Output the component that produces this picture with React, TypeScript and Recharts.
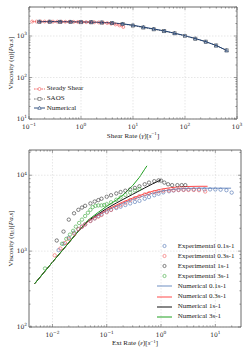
import React from 'react';
import { ComposedChart, Line, Scatter, XAxis, YAxis, ReferenceArea } from 'recharts';

// ---------- shear panel data ----------
const steadyRate = [0.115, 0.139, 0.167, 0.2, 0.24, 0.29, 0.35, 0.42, 0.5, 0.6, 0.72, 0.87, 1.05, 1.26, 1.5, 1.8, 2.2, 2.65, 3.2, 3.8, 4.6, 5.5, 6.5];
const steadyEta = [2230, 2230, 2230, 2230, 2220, 2220, 2220, 2210, 2200, 2200, 2190, 2180, 2170, 2160, 2150, 2140, 2120, 2100, 2050, 1980, 1900, 1800, 1650];

const saosRate = [0.158, 0.251, 0.398, 0.631, 1, 1.58, 2.51, 3.98, 6.31, 10, 15.8, 25.1, 39.8, 63.1, 100, 158, 251, 398, 631];
const saosEta = [2200, 2200, 2190, 2170, 2150, 2140, 2110, 2060, 1950, 1780, 1600, 1450, 1310, 1160, 1000, 860, 730, 590, 450];
const numShearEta = [2230, 2230, 2220, 2210, 2190, 2170, 2130, 2070, 1970, 1820, 1640, 1480, 1330, 1170, 1020, 870, 730, 590, 450];

// ---------- extensional panel data ----------
const exp01Rate = [0.013, 0.016, 0.02, 0.025, 0.03, 0.035, 0.04, 0.05, 0.06, 0.07, 0.08, 0.1, 0.12, 0.15, 0.18, 0.22, 0.27, 0.33, 0.4, 0.5, 0.6, 0.75, 0.9, 1.1, 1.4, 1.7, 2.1, 2.6, 3.2, 4, 5, 6.3, 8, 10, 12.5, 16, 20];
const exp01Eta = [1030, 1250, 1500, 1750, 1950, 2100, 2250, 2500, 2700, 2900, 3050, 3300, 3500, 3700, 3850, 4050, 4250, 4450, 4600, 4900, 5150, 5450, 5700, 5950, 6150, 6300, 6400, 6450, 6500, 6500, 6500, 6500, 6500, 6500, 6450, 6350, 5900];

const exp03Rate = [0.011, 0.014, 0.017, 0.02, 0.025, 0.03, 0.035, 0.04, 0.05, 0.06, 0.07, 0.08, 0.1, 0.12, 0.15, 0.18, 0.22, 0.27, 0.33, 0.4, 0.5, 0.6, 0.75, 0.9, 1.1, 1.4, 1.7, 2.1, 2.6, 3.2, 4, 5, 6.5];
const exp03Eta = [880, 1080, 1280, 1450, 1700, 1950, 2100, 2250, 2500, 2700, 2850, 3000, 3250, 3500, 3800, 4050, 4350, 4700, 5000, 5300, 5600, 5800, 6000, 6150, 6250, 6300, 6350, 6400, 6400, 6400, 6400, 6350, 6100];

const exp1Rate = [0.012, 0.016, 0.02, 0.025, 0.03, 0.035, 0.04, 0.05, 0.06, 0.07, 0.08, 0.1, 0.12, 0.15, 0.18, 0.22, 0.27, 0.33, 0.4, 0.5, 0.6, 0.75, 0.9, 1.0, 1.15, 1.35, 1.6, 2, 2.4, 2.8];
const exp1Eta = [1380, 1810, 2600, 3150, 3500, 3750, 3950, 4250, 4500, 4700, 4900, 5200, 5450, 5750, 6000, 6250, 6500, 6800, 7150, 7600, 8000, 8350, 8550, 8500, 8000, 7600, 7400, 7400, 7400, 7400];

const exp3Rate = [0.0073, 0.015, 0.018, 0.021, 0.024, 0.027, 0.031, 0.035, 0.04, 0.045, 0.05, 0.055, 0.062, 0.07, 0.08, 0.09, 0.1, 0.12, 0.15, 0.18, 0.22, 0.27, 0.33, 0.4];
const exp3Eta = [590, 1250, 1450, 1650, 1850, 2100, 2350, 2600, 2900, 3200, 3500, 3800, 3950, 4000, 4000, 4050, 4150, 4400, 4750, 5100, 5500, 5900, 6300, 6600];

const num01Rate = [0.0047, 0.007, 0.01, 0.015, 0.02, 0.03, 0.045, 0.07, 0.1, 0.15, 0.2, 0.3, 0.5, 0.7, 1, 1.5, 2, 3, 5, 10, 19.5];
const num01Eta = [372, 525, 715, 1010, 1290, 1830, 2450, 2950, 3400, 3900, 4300, 4800, 5400, 5800, 6150, 6450, 6600, 6700, 6750, 6750, 6750];

const num03Rate = [0.0047, 0.007, 0.01, 0.015, 0.02, 0.03, 0.045, 0.07, 0.1, 0.15, 0.2, 0.3, 0.5, 0.7, 1, 1.5, 2, 3, 5, 7.2];
const num03Eta = [372, 525, 715, 1010, 1290, 1830, 2450, 3000, 3500, 4050, 4450, 5000, 5700, 6150, 6550, 6850, 7000, 7100, 7150, 7150];

const num1Rate = [0.0047, 0.007, 0.01, 0.015, 0.02, 0.03, 0.045, 0.07, 0.1, 0.15, 0.2, 0.3, 0.5, 0.7, 1.0];
const num1Eta = [372, 525, 715, 1010, 1290, 1830, 2500, 3100, 3650, 4300, 4800, 5600, 6800, 7700, 8700];

const num3Rate = [0.0047, 0.007, 0.01, 0.015, 0.02, 0.03, 0.045, 0.07, 0.1, 0.15, 0.2, 0.3, 0.4, 0.5, 0.55];
const num3Eta = [372, 525, 715, 1010, 1290, 1830, 2550, 3250, 3900, 4700, 5500, 7300, 9400, 12000, 13300];

// ---------- axes ----------
const shearXDomain = [0.1, 1000];
const shearYDomain = [10, 5000];
const extXDomain = [0.0037, 29.7];
const extYDomain = [100, 21500];

const TEXT_FONT = '"Liberation Serif", "Times New Roman", serif';
const TICK_FONT = '"DejaVu Serif", serif';
const AXIS_COLOR = '#444';

const pts = (xs: number[], ys: number[]) => xs.map((x, i) => ({ x, y: ys[i] }));

// decade + minor ticks inside a range
const logTicks = (lo: number, hi: number) => {
  const out: number[] = [];
  for (let d = Math.floor(Math.log10(lo)); d <= Math.ceil(Math.log10(hi)); d++) {
    for (let k = 1; k < 10; k++) {
      const v = Number((k * Math.pow(10, d)).toPrecision(6));
      if (v >= lo * 0.999 && v <= hi * 1.001) out.push(v);
    }
  }
  return out;
};

const isMajor = (v: number) => Math.abs(Math.log10(v) - Math.round(Math.log10(v))) < 1e-6;
const expOf = (v: number) => {
  const e = Math.round(Math.log10(v));
  return e < 0 ? `\u2212${-e}` : `${e}`;
};

type Frame = { left: number; right: number; top: number; bottom: number };
const TOP_FRAME: Frame = { left: 29, right: 237, top: 7, bottom: 119 };
const BOT_FRAME: Frame = { left: 29, right: 241, top: 8, bottom: 185 };

const XTick = ({ x, y, payload, frame }: any) => {
  const v = payload.value;
  const major = isMajor(v);
  const len = major ? 3 : 1.6;
  return (
    <g>
      {major && (
        <line x1={x} x2={x} y1={frame.top} y2={frame.bottom} stroke="#cfcfcf" strokeWidth={0.5} strokeDasharray="1.5 1.5" />
      )}
      <line x1={x} x2={x} y1={y} y2={y - len} stroke={AXIS_COLOR} strokeWidth={0.5} />
      <line x1={x} x2={x} y1={frame.top} y2={frame.top + len} stroke={AXIS_COLOR} strokeWidth={0.5} />
      {major && (
        <text x={x} y={y + 9.5} textAnchor="middle" fontSize={6} fontFamily={TICK_FONT} fill="#222">
          10<tspan dy={-2.8} fontSize={4.3}>{expOf(v)}</tspan>
        </text>
      )}
    </g>
  );
};

const YTick = ({ x, y, payload, frame }: any) => {
  const v = payload.value;
  const major = isMajor(v);
  const len = major ? 3 : 1.6;
  return (
    <g>
      {major && (
        <line x1={frame.left} x2={frame.right} y1={y} y2={y} stroke="#cfcfcf" strokeWidth={0.5} strokeDasharray="1.5 1.5" />
      )}
      <line x1={x} x2={x + len} y1={y} y2={y} stroke={AXIS_COLOR} strokeWidth={0.5} />
      <line x1={frame.right - len} x2={frame.right} y1={y} y2={y} stroke={AXIS_COLOR} strokeWidth={0.5} />
      {major && (
        <text x={x - 2} y={y + 2.2} textAnchor="end" fontSize={6} fontFamily={TICK_FONT} fill="#222">
          10<tspan dy={-2.8} fontSize={4.3}>{expOf(v)}</tspan>
        </text>
      )}
    </g>
  );
};

// ---------- markers ----------
const hollowCircle = (color: string, r = 1.7) => (p: any) =>
  <circle key={`c-${p.index}-${p.cx}`} cx={p.cx} cy={p.cy} r={r} fill="none" stroke={color} strokeWidth={0.6} />;
const hollowSquare = (color: string) => (p: any) =>
  <rect key={`s-${p.index}`} x={p.cx - 1.6} y={p.cy - 1.6} width={3.2} height={3.2} fill="none" stroke={color} strokeWidth={0.6} />;
const hollowTriangle = (color: string) => (p: any) =>
  <polygon key={`t-${p.index}`} points={`${p.cx},${p.cy - 1.8} ${p.cx - 1.7},${p.cy + 1.3} ${p.cx + 1.7},${p.cy + 1.3}`} fill="none" stroke={color} strokeWidth={0.6} />;

const RED = '#ef5b5b';
const GRAY = '#666';
const NAVY = '#1d3f73';

const topLegend = [
  { name: 'Steady Shear', color: RED, dash: '1.6 0.9', marker: 'circle' },
  { name: 'SAOS', color: GRAY, dash: '1.6 0.9', marker: 'square' },
  { name: 'Numerical', color: NAVY, dash: undefined, marker: 'triangle' },
];

const EXP_BLUE = '#4a6fb0';
const EXP_RED = '#f25a5a';
const EXP_BLACK = '#333';
const EXP_GREEN = '#3aa83a';
const NUM_BLUE = '#6f8fc2';
const NUM_RED = '#ff4b4b';
const NUM_BLACK = '#111';
const NUM_GREEN = '#21a021';

const botLegend = [
  { name: 'Experimental 0.1s-1', color: EXP_BLUE, kind: 'dot' },
  { name: 'Experimental 0.3s-1', color: EXP_RED, kind: 'dot' },
  { name: 'Experimental 1s-1', color: EXP_BLACK, kind: 'dot' },
  { name: 'Experimental 3s-1', color: EXP_GREEN, kind: 'dot' },
  { name: 'Numerical 0.1s-1', color: NUM_BLUE, kind: 'line' },
  { name: 'Numerical 0.3s-1', color: NUM_RED, kind: 'line' },
  { name: 'Numerical 1s-1', color: NUM_BLACK, kind: 'line' },
  { name: 'Numerical 3s-1', color: NUM_GREEN, kind: 'line' },
];

const TopLegendBox = () => (
  <div style={{ position: 'absolute', left: 34, top: 84, fontFamily: TEXT_FONT, fontSize: 7, color: '#222', lineHeight: 1 }}>
    {topLegend.map((it) => (
      <div key={it.name} style={{ display: 'flex', alignItems: 'center', height: 9.8 }}>
        <svg width={11} height={8} style={{ marginRight: 1.7 }}>
          <line x1={0} x2={11} y1={4} y2={4} stroke={it.color} strokeWidth={0.9} strokeDasharray={it.dash} />
          {it.marker === 'circle' && <circle cx={5.5} cy={4} r={1.5} fill="white" stroke={it.color} strokeWidth={0.6} />}
          {it.marker === 'square' && <rect x={4} y={2.5} width={3} height={3} fill="white" stroke={it.color} strokeWidth={0.6} />}
          {it.marker === 'triangle' && <polygon points="5.5,2.2 3.8,5.3 7.2,5.3" fill="white" stroke={it.color} strokeWidth={0.6} />}
        </svg>
        <span>{it.name}</span>
      </div>
    ))}
  </div>
);

const BotLegendBox = () => (
  <div style={{ position: 'absolute', left: 157, top: 99, fontFamily: TEXT_FONT, fontSize: 7, color: '#222', lineHeight: 1 }}>
    {botLegend.map((it) => (
      <div key={it.name} style={{ display: 'flex', alignItems: 'center', height: 10.1 }}>
        <svg width={15} height={8} style={{ marginRight: 5.7 }}>
          {it.kind === 'dot' ? (
            <circle cx={7.5} cy={4} r={1.6} fill="none" stroke={it.color} strokeWidth={0.6} />
          ) : (
            <line x1={0} x2={15} y1={4} y2={4} stroke={it.color} strokeWidth={1} />
          )}
        </svg>
        <span>{it.name}</span>
      </div>
    ))}
  </div>
);

const XLabel = (text: React.ReactNode, dy: number) => (props: any) => {
  const vb = props.viewBox;
  return (
    <text x={vb.x + vb.width / 2} y={vb.y + dy} textAnchor="middle" fontSize={7} fontFamily={TEXT_FONT} fill="#222">
      {text}
    </text>
  );
};

const YLabel = (text: React.ReactNode) => (props: any) => {
  const vb = props.viewBox;
  const cx = 12.5;
  const cy = vb.y + vb.height / 2;
  return (
    <text x={cx} y={cy} textAnchor="middle" fontSize={7} fontFamily={TEXT_FONT} fill="#222" transform={`rotate(-90 ${cx} ${cy})`}>
      {text}
    </text>
  );
};

const it = { fontStyle: 'italic' as const };

export default function App() {
  const shearXTicks = logTicks(shearXDomain[0], shearXDomain[1]);
  const shearYTicks = logTicks(shearYDomain[0], shearYDomain[1]);
  const extXTicks = logTicks(extXDomain[0], extXDomain[1]);
  const extYTicks = logTicks(extYDomain[0], extYDomain[1]);

  return (
    <div style={{ position: 'absolute', left: 0, top: 0, width: 249, height: 353, background: '#fff', overflow: 'hidden' }}>
      <div style={{ position: 'absolute', left: 0, top: 0 }}>
        <ComposedChart width={249} height={142} margin={{ top: 7, right: 12, bottom: 0, left: 0 }}>
          <XAxis
            dataKey="x"
            type="number"
            scale="log"
            domain={shearXDomain}
            allowDataOverflow
            ticks={shearXTicks}
            interval={0}
            tickSize={0}
            tickMargin={0}
            axisLine={false}
            tickLine={false}
            height={23}
            tick={(p: any) => <XTick {...p} frame={TOP_FRAME} />}
            label={{
              content: XLabel(
                <>
                  Shear Rate (<tspan style={it}>γ̇</tspan>)[<tspan style={it}>s</tspan>
                  <tspan dy={-2.5} fontSize={5}>−1</tspan>
                  <tspan dy={2.5}>]</tspan>
                </>,
                18.5
              ),
            }}
          />
          <YAxis
            dataKey="y"
            type="number"
            scale="log"
            domain={shearYDomain}
            allowDataOverflow
            ticks={shearYTicks}
            interval={0}
            tickSize={0}
            tickMargin={0}
            axisLine={false}
            tickLine={false}
            width={29}
            tick={(p: any) => <YTick {...p} frame={TOP_FRAME} />}
            label={{
              content: YLabel(
                <>
                  Viscosity (<tspan style={it}>η</tspan>)[<tspan style={it}>Pa.s</tspan>]
                </>
              ),
            }}
          />
          <ReferenceArea x1={shearXDomain[0]} x2={shearXDomain[1]} y1={shearYDomain[0]} y2={shearYDomain[1]} fill="none" stroke={AXIS_COLOR} strokeWidth={0.8} fillOpacity={0} />
          <Line data={pts(steadyRate, steadyEta)} dataKey="y" stroke={RED} strokeWidth={0.9} strokeDasharray="1.6 0.9" dot={hollowCircle(RED, 1.5)} isAnimationActive={false} />
          <Line data={pts(saosRate, saosEta)} dataKey="y" stroke={GRAY} strokeWidth={0.9} strokeDasharray="1.6 0.9" dot={hollowSquare(GRAY)} isAnimationActive={false} />
          <Line data={pts(saosRate, numShearEta)} dataKey="y" stroke={NAVY} strokeWidth={1} dot={hollowTriangle(NAVY)} isAnimationActive={false} />
        </ComposedChart>
        <TopLegendBox />
      </div>

      <div style={{ position: 'absolute', left: 0, top: 142 }}>
        <ComposedChart width={249} height={211} margin={{ top: 8, right: 8, bottom: 0, left: 0 }}>
          <XAxis
            dataKey="x"
            type="number"
            scale="log"
            domain={extXDomain}
            allowDataOverflow
            ticks={extXTicks}
            interval={0}
            tickSize={0}
            tickMargin={0}
            axisLine={false}
            tickLine={false}
            height={26}
            tick={(p: any) => <XTick {...p} frame={BOT_FRAME} />}
            label={{
              content: XLabel(
                <>
                  Ext Rate (<tspan style={it}>ε̇</tspan>)[<tspan style={it}>s</tspan>
                  <tspan dy={-2.5} fontSize={5}>−1</tspan>
                  <tspan dy={2.5}>]</tspan>
                </>,
                18
              ),
            }}
          />
          <YAxis
            dataKey="y"
            type="number"
            scale="log"
            domain={extYDomain}
            allowDataOverflow
            ticks={extYTicks}
            interval={0}
            tickSize={0}
            tickMargin={0}
            axisLine={false}
            tickLine={false}
            width={29}
            tick={(p: any) => <YTick {...p} frame={BOT_FRAME} />}
            label={{
              content: YLabel(
                <>
                  Viscosity (<tspan style={it}>η</tspan>
                  <tspan dy={1.5} fontSize={5} style={it}>E</tspan>
                  <tspan dy={-1.5}>)[</tspan>
                  <tspan style={it}>Pa.s</tspan>]
                </>
              ),
            }}
          />
          <ReferenceArea x1={extXDomain[0]} x2={extXDomain[1]} y1={extYDomain[0]} y2={extYDomain[1]} fill="none" stroke={AXIS_COLOR} strokeWidth={0.8} fillOpacity={0} />
          <Scatter data={pts(exp01Rate, exp01Eta)} dataKey="y" shape={hollowCircle(EXP_BLUE)} isAnimationActive={false} />
          <Scatter data={pts(exp03Rate, exp03Eta)} dataKey="y" shape={hollowCircle(EXP_RED)} isAnimationActive={false} />
          <Scatter data={pts(exp1Rate, exp1Eta)} dataKey="y" shape={hollowCircle(EXP_BLACK)} isAnimationActive={false} />
          <Scatter data={pts(exp3Rate, exp3Eta)} dataKey="y" shape={hollowCircle(EXP_GREEN)} isAnimationActive={false} />
          <Line data={pts(num01Rate, num01Eta)} dataKey="y" stroke={NUM_BLUE} strokeWidth={1} dot={false} isAnimationActive={false} />
          <Line data={pts(num03Rate, num03Eta)} dataKey="y" stroke={NUM_RED} strokeWidth={1} dot={false} isAnimationActive={false} />
          <Line data={pts(num1Rate, num1Eta)} dataKey="y" stroke={NUM_BLACK} strokeWidth={1} dot={false} isAnimationActive={false} />
          <Line data={pts(num3Rate, num3Eta)} dataKey="y" stroke={NUM_GREEN} strokeWidth={1} dot={false} isAnimationActive={false} />
        </ComposedChart>
        <BotLegendBox />
      </div>
    </div>
  );
}
